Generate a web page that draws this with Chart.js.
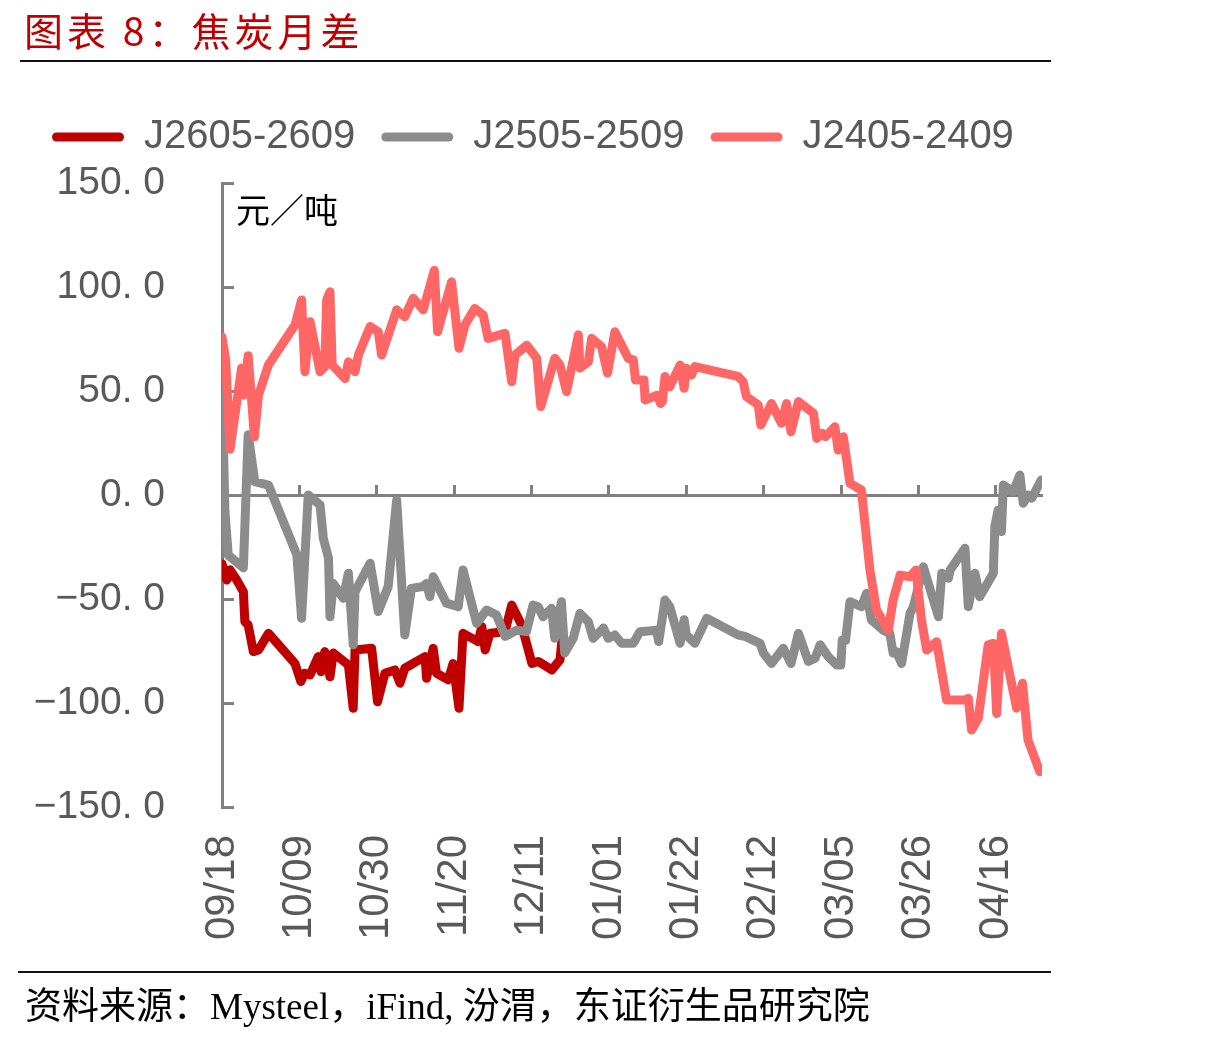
<!DOCTYPE html>
<html>
<head>
<meta charset="utf-8">
<script src="https://cdn.jsdelivr.net/npm/chart.js@4.4.1/dist/chart.umd.min.js"></script>
<style>
html,body{margin:0;padding:0;background:#fff;}
#wrap{position:relative;width:1207px;height:1040px;overflow:hidden;}
#c{position:absolute;left:0;top:0;}
.title{position:absolute;left:24px;top:4px;font-family:"Noto Sans CJK SC",sans-serif;font-size:39px;line-height:50px;color:#C00000;letter-spacing:4px;white-space:nowrap;}
.rule{position:absolute;height:2px;background:#111;}
.unit{position:absolute;left:236px;top:188px;font-family:"Noto Sans CJK SC",sans-serif;font-size:34px;line-height:42px;color:#000;white-space:nowrap;}
.source{position:absolute;left:25px;top:983px;font-family:"Liberation Serif","Noto Sans CJK SC",serif;font-size:37px;line-height:48px;color:#000;white-space:nowrap;}
</style>
</head>
<body>
<div id="wrap">
<canvas id="c" width="1207" height="1040"></canvas>
<div class="title">图表 8：焦炭月差</div>
<div class="rule" style="left:20px;top:60px;width:1031px;"></div>
<div class="unit">元／吨</div>
<div class="rule" style="left:18px;top:971px;width:1033px;"></div>
<div class="source">资料来源：Mysteel，iFind, 汾渭，东证衍生品研究院</div>
</div>
<script>
// x axis: days after 09/18 (calendar days)
const tickDays = [0, 21, 42, 63, 84, 105, 126, 147, 168, 189, 210];
const tickLabels = ['09/18','10/09','10/30','11/20','12/11','01/01','01/22','02/12','03/05','03/26','04/16'];
const yTicks = [-150, -100, -50, 0, 50, 100, 150];

const seriesNames = ['J2605-2609', 'J2505-2509', 'J2405-2409'];

const j2605Days = [0,1.3,2.2,4.0,5.8,6.2,7.1,8.5,9.9,12.6,19.8,21.4,22.4,23.9,26.1,26.9,27.9,29.3,30.2,34.3,35.6,36.1,40.6,42.2,44.2,46.9,48.3,49.6,52.8,55.1,55.5,57.3,58.2,61.4,62.7,64.3,65.4,69.5,70.5,71.4,72.7,76.8,78.6,81.3,84.1,85.8,89.5,91.7,92.2];
const j2605Vals = [-33,-40.9,-36,-40.9,-46.5,-60.9,-62.5,-75.3,-74.5,-66.5,-81,-89.7,-85.7,-86.5,-77.7,-85,-75.3,-87.4,-76,-81.7,-102.5,-74.5,-73.7,-99.4,-85.7,-84.1,-90.5,-83.3,-80,-77.7,-88.1,-73.7,-85.7,-88.9,-81,-102.5,-66.5,-70.5,-63.3,-74.5,-66.5,-65.7,-52.9,-62.5,-81,-80,-84.1,-79.3,-70.5];

const j2505Days = [0,0.8,1.7,5.8,7.1,8.9,12.6,20.3,21.6,23.4,26.6,27.5,28.9,29.3,30.2,32.9,34.3,35.6,36.1,40.2,42.4,45.1,47.4,49.6,51.4,54.6,55.5,56.4,57.3,60.9,64.1,65.4,69.1,71.8,74.5,76.8,79.9,82.6,84.4,85.8,87.1,89.4,90.3,92.1,93.0,95.3,97.1,99.4,100.7,103.5,104.8,106.6,108.4,111.6,113.4,117.9,118.5,120.2,121.5,124.3,125.4,126,128.3,131.5,140.1,141.9,146,146.9,149.1,152.3,154.4,156.4,159.1,160.9,162.3,164.5,166.8,167.9,168.3,169.2,170.4,173.5,174.9,176.2,179.4,181.2,182.1,183,184.4,186.7,187.6,190.3,194.4,195.3,197.1,197.6,201.6,202.5,204.3,205.6,209.3,209.7,210.6,211.5,212,214.7,216.5,217.4,218.7,219.7,222.3];
const j2505Vals = [55,-8,-29,-35,29,6.4,4.8,-28.8,-59.3,0,-4.8,-20.8,-30.4,-58.5,-42.5,-49.7,-37.6,-72,-46.5,-32.8,-56,-44,-2.4,-67.3,-44.9,-44,-42.5,-48.9,-39.3,-52,-53.7,-36,-61.7,-55.3,-57.7,-68,-65,-65.7,-52.9,-53.7,-58.5,-54.5,-68.9,-51.3,-76,-68.9,-56.9,-60.9,-68.9,-64,-68.9,-67.3,-71.3,-71.3,-65.7,-65,-70.5,-50.5,-53.7,-71.3,-60,-67.3,-71.3,-59.3,-67.3,-68,-71.3,-76,-81,-73.7,-81,-66.5,-80,-78.5,-72,-77.7,-81.7,-81.7,-69.7,-70,-51.3,-53.7,-47.3,-60,-65,-66.5,-76,-75.3,-81,-56.9,-53.7,-34.5,-58.5,-37.6,-40,-36,-25.6,-53.7,-37.6,-48.9,-37.6,-15.2,-7.2,-17.6,4.8,1.6,9.6,-4,0,-1.6,7.2];

const j2405Days = [0,1,2.2,5.3,5.8,7.1,8.8,9.9,12.6,19.8,21.6,22.5,23.9,26.6,27.9,28.4,29.3,29.9,33.4,34.3,36.1,37,40.2,42.4,43.3,47.4,49.6,51.9,54.6,57.6,58.5,62.3,64.3,65.9,68.6,70.9,72.2,76.8,78.6,79.5,82.7,85.4,86.5,90.3,91.7,93.5,96.7,97.1,99.4,100.3,103,104.6,106.6,110.2,111.6,112.2,114.5,114.8,118.1,119,119.5,120.2,121.5,124.3,125.4,126,127.4,128.3,140,141.4,142.3,145.5,146.2,149.1,151.8,153.2,154.4,156.4,160.5,161.4,162.8,163.7,166.3,167.2,168.6,170.4,173.5,175.8,177.6,180.8,182.1,184,186.7,188.3,189.8,191.2,193.9,196.6,201.6,202.5,203.4,205.2,207.9,209.3,210.2,211.5,215.6,217.2,218.7,221.9];
const j2405Vals = [76,65,22,61,48,67,28,48,62.5,81.7,93.8,59.3,83.3,59.3,61.7,93.8,97.7,62.5,56,64,59.3,67.3,81,78.5,67.3,89,85.7,94.6,89,108,78.5,102.5,70.5,81.7,89.7,86.5,75.3,77.7,54.5,67.3,72,65.7,42.5,65.7,62.5,49.7,77,61,64,75.3,71.3,58.5,78.5,65.7,65,55.3,55.3,45.7,48,44,45,57,52,62.5,51.3,61,57.7,61.7,57,54.5,47.3,43.3,33.7,44,34.5,44,30.4,44.9,39.3,27.2,29.7,28,32.8,21.6,28,5.6,2.4,-36,-55.3,-65,-50.5,-38.5,-39.3,-36,-60,-74.5,-70.5,-98.6,-98.6,-97.7,-113,-107.4,-72,-71.3,-105,-66.5,-102.5,-90.5,-117.8,-133];

const seriesColors = ['#C00000', '#8C8C8C', '#FF6666'];

function pairs(days, vals) { return days.map((d, i) => ({x: d, y: vals[i]})); }
function fmtY(v) {
  const s = Math.abs(v).toFixed(1).replace('.', '. ');
  return (v < 0 ? '\u2212' : '') + s;
}

const FONT = '"Liberation Sans", Arial, sans-serif';
const lineCommon = {borderWidth: 9, pointRadius: 0, pointHoverRadius: 0, tension: 0, fill: false,
  borderCapStyle: 'round', borderJoinStyle: 'round'};

const data = {
  datasets: [
    Object.assign({label: seriesNames[0], data: pairs(j2605Days, j2605Vals), borderColor: seriesColors[0], backgroundColor: seriesColors[0], order: 3}, lineCommon),
    Object.assign({label: seriesNames[1], data: pairs(j2505Days, j2505Vals), borderColor: seriesColors[1], backgroundColor: seriesColors[1], order: 2}, lineCommon),
    Object.assign({label: seriesNames[2], data: pairs(j2405Days, j2405Vals), borderColor: seriesColors[2], backgroundColor: seriesColors[2], order: 1}, lineCommon)
  ]
};

const setTicks = s => { s.ticks = tickDays.map(v => ({value: v})); };

new Chart(document.getElementById('c'), {
  type: 'line',
  data: data,
  options: {
    responsive: false,
    devicePixelRatio: 1,
    animation: false,
    events: [],
    layout: {padding: {top: 91, left: 26, right: 165, bottom: 0}},
    plugins: {
      tooltip: {enabled: false},
      title: {display: false},
      subtitle: {display: true, text: '', position: 'top', weight: 500, font: {size: 1, lineHeight: 1}, padding: {top: 0, bottom: 15}},
      legend: {
        display: true, position: 'top', align: 'start',
        labels: {
          boxWidth: 72, boxHeight: 9, padding: 26, color: '#595959',
          font: {family: FONT, size: 40},
          generateLabels: chart => chart.data.datasets.map((ds, i) => ({
            text: ds.label, fillStyle: ds.borderColor, strokeStyle: ds.borderColor,
            lineWidth: 0, borderRadius: 4.5, datasetIndex: i, hidden: false, fontColor: '#595959'
          }))
        }
      }
    },
    scales: {
      x: {
        type: 'linear', position: 'bottom', min: 0, max: 222.5,
        afterBuildTicks: setTicks,
        afterFit: s => { s.height = 233; },
        grid: {display: false, drawTicks: false},
        border: {display: false},
        ticks: {autoSkip: false, maxRotation: 90, minRotation: 90, padding: 28, color: '#595959',
          font: {family: FONT, size: 42},
          callback: (v, i) => tickLabels[i]}
      },
      x0: {
        type: 'linear', axis: 'x', position: {y: 0}, min: 0, max: 222.5,
        afterBuildTicks: setTicks,
        grid: {display: true, drawOnChartArea: false, drawTicks: true, tickLength: -12, tickWidth: 3, tickColor: '#808080'},
        border: {display: true, color: '#808080', width: 3},
        ticks: {display: false}
      },
      y: {
        type: 'linear', position: 'left', min: -150, max: 150,
        afterBuildTicks: s => { s.ticks = yTicks.map(v => ({value: v})); },
        afterFit: s => { s.width = 196; },
        grid: {display: true, drawOnChartArea: false, drawTicks: true, tickLength: -12, tickWidth: 3, tickColor: '#808080'},
        border: {display: true, color: '#808080', width: 3},
        ticks: {padding: 69, color: '#595959', font: {family: FONT, size: 39}, callback: v => fmtY(v)}
      }
    }
  }
});
</script>
</body>
</html>
